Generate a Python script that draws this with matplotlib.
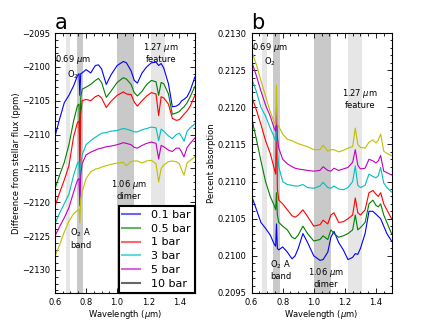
import matplotlib
matplotlib.use("Agg")
import matplotlib.pyplot as plt
from matplotlib.lines import Line2D
from matplotlib.ticker import MultipleLocator, FormatStrFormatter

wavelength = [0.60, 0.63, 0.66, 0.69, 0.72, 0.745, 0.755, 0.76, 0.766, 0.775, 0.80, 0.83,
              0.86, 0.88, 0.90, 0.93, 0.96, 1.00, 1.04, 1.06, 1.09, 1.11, 1.13, 1.16,
              1.19, 1.22, 1.25, 1.267, 1.283, 1.30, 1.33, 1.355, 1.38, 1.40, 1.415, 1.43,
              1.45, 1.47, 1.50]

labels = ["0.1 bar", "0.5 bar", "1 bar", "3 bar", "5 bar", "10 bar"]

# Panel a: difference from stellar flux (ppm)
diff_01 = [-2110.3, -2107.7, -2105.3, -2104.2, -2102.8, -2101.3, -2101.0, -2104.2, -2101.0, -2100.9,
           -2100.4, -2100.9, -2099.8, -2099.7, -2100.3, -2102.6, -2101.2, -2099.8, -2099.2, -2099.4,
           -2100.6, -2102.0, -2102.4, -2100.9, -2100.0, -2099.4, -2099.3, -2099.8, -2099.5, -2100.2,
           -2102.5, -2105.9, -2105.8, -2105.5, -2105.0, -2104.8, -2104.4, -2103.5, -2101.5]
diff_05 = [-2118.0, -2116.0, -2114.1, -2111.5, -2108.0, -2105.7, -2105.5, -2113.0, -2104.5, -2103.3,
           -2103.0, -2102.6, -2102.0, -2101.7, -2102.3, -2104.5, -2103.6, -2102.3, -2101.6, -2101.8,
           -2102.6, -2103.8, -2104.3, -2103.6, -2102.6, -2102.0, -2102.2, -2104.2, -2102.3, -2102.5,
           -2104.0, -2107.0, -2106.8, -2106.6, -2106.2, -2105.9, -2105.3, -2104.4, -2102.9]
diff_1 = [-2120.6, -2118.6, -2116.7, -2114.6, -2110.3, -2108.2, -2108.0, -2116.5, -2107.0, -2105.0,
          -2104.8, -2105.0, -2104.4, -2104.2, -2104.6, -2106.0, -2105.1, -2104.2, -2103.7, -2104.0,
          -2104.1, -2105.2, -2105.8, -2105.0, -2104.3, -2103.8, -2104.0, -2107.2, -2104.4, -2104.6,
          -2105.5, -2107.6, -2107.9, -2107.8, -2107.4, -2107.0, -2106.5, -2105.8, -2104.2]
diff_3 = [-2123.2, -2121.6, -2120.2, -2118.8, -2116.0, -2114.2, -2114.0, -2119.5, -2114.5, -2113.0,
          -2111.5, -2110.9, -2110.4, -2110.1, -2109.8, -2109.7, -2109.5, -2109.4, -2109.1, -2109.2,
          -2109.4, -2109.6, -2109.6, -2109.3, -2109.1, -2108.9, -2109.0, -2110.9, -2109.2, -2109.5,
          -2110.2, -2110.6, -2110.0, -2109.8, -2110.3, -2111.0, -2109.5, -2109.0, -2108.4]
diff_5 = [-2125.0, -2123.6, -2122.3, -2120.8, -2118.5, -2116.7, -2116.5, -2120.5, -2116.0, -2114.3,
          -2113.0, -2112.6, -2112.3, -2112.1, -2112.0, -2111.8, -2111.7, -2111.5, -2111.2, -2111.3,
          -2111.5, -2111.9, -2112.0, -2111.6, -2111.3, -2111.1, -2111.3, -2113.6, -2111.6, -2111.8,
          -2112.3, -2112.5, -2112.0, -2112.0, -2112.6, -2113.3, -2111.9, -2111.3, -2110.5]
diff_10 = [-2128.0, -2126.3, -2124.4, -2122.8, -2121.7, -2121.2, -2121.0, -2123.0, -2119.5, -2118.5,
           -2116.5, -2115.5, -2115.1, -2115.0, -2114.8, -2114.6, -2114.4, -2114.2, -2114.1, -2114.6,
           -2114.0, -2113.9, -2113.9, -2114.2, -2113.9, -2113.8, -2114.3, -2117.0, -2115.0, -2114.5,
           -2114.0, -2113.9, -2114.0, -2114.3, -2115.2, -2116.0, -2114.2, -2113.8, -2113.3]

# Panel b: percent absorption
abs_01 = [0.21081, 0.21063, 0.21045, 0.21037, 0.21028, 0.21016, 0.21013, 0.21043, 0.21010, 0.21008,
          0.21012, 0.21005, 0.20996, 0.21000, 0.21010, 0.21030, 0.21018, 0.21000, 0.20994, 0.20995,
          0.21005, 0.21025, 0.21033, 0.21018, 0.21008, 0.20995, 0.20998, 0.21003, 0.21002, 0.21010,
          0.21030, 0.21060, 0.21060, 0.21056, 0.21053, 0.21050, 0.21040, 0.21030, 0.21020]
abs_05 = [0.21186, 0.21158, 0.21128, 0.21100, 0.21080, 0.21068, 0.21062, 0.21085, 0.21055, 0.21045,
          0.21040, 0.21035, 0.21025, 0.21023, 0.21028, 0.21040, 0.21030, 0.21020, 0.21022, 0.21027,
          0.21022, 0.21035, 0.21030, 0.21025, 0.21027, 0.21030, 0.21035, 0.21055, 0.21035, 0.21038,
          0.21045, 0.21070, 0.21075, 0.21068, 0.21066, 0.21070, 0.21055, 0.21045, 0.21030]
abs_1 = [0.21215, 0.21197, 0.21177, 0.21155, 0.21138, 0.21118, 0.21110, 0.21198, 0.21090, 0.21075,
         0.21070, 0.21062, 0.21054, 0.21052, 0.21055, 0.21062, 0.21053, 0.21040, 0.21042, 0.21048,
         0.21043, 0.21055, 0.21058, 0.21045, 0.21046, 0.21050, 0.21055, 0.21078, 0.21058, 0.21055,
         0.21062, 0.21085, 0.21088, 0.21083, 0.21080, 0.21085, 0.21070, 0.21062, 0.21050]
abs_3 = [0.21239, 0.21222, 0.21200, 0.21188, 0.21172, 0.21160, 0.21155, 0.21185, 0.21140, 0.21120,
         0.21100, 0.21096, 0.21095, 0.21094, 0.21094, 0.21096, 0.21092, 0.21091, 0.21094, 0.21099,
         0.21092, 0.21091, 0.21094, 0.21090, 0.21089, 0.21092, 0.21100, 0.21121, 0.21095, 0.21092,
         0.21095, 0.21110, 0.21107, 0.21105, 0.21108, 0.21119, 0.21098, 0.21092, 0.21086]
abs_5 = [0.21262, 0.21243, 0.21222, 0.21203, 0.21188, 0.21172, 0.21168, 0.21195, 0.21160, 0.21145,
         0.21130, 0.21124, 0.21120, 0.21118, 0.21117, 0.21116, 0.21115, 0.21114, 0.21115, 0.21120,
         0.21115, 0.21114, 0.21118, 0.21115, 0.21117, 0.21119, 0.21126, 0.21143, 0.21122, 0.21117,
         0.21118, 0.21130, 0.21128, 0.21125, 0.21128, 0.21135, 0.21114, 0.21112, 0.21109]
abs_10 = [0.21276, 0.21258, 0.21236, 0.21215, 0.21194, 0.21180, 0.21176, 0.21230, 0.21178, 0.21174,
          0.21164, 0.21157, 0.21155, 0.21153, 0.21151, 0.21149, 0.21147, 0.21143, 0.21143, 0.21149,
          0.21141, 0.21143, 0.21143, 0.21140, 0.21142, 0.21145, 0.21147, 0.21172, 0.21150, 0.21146,
          0.21145, 0.21153, 0.21156, 0.21152, 0.21156, 0.21164, 0.21141, 0.21138, 0.21135]

light_bands = [(0.67, 0.70), (1.22, 1.31)]
dark_bands = [(0.74, 0.78), (1.00, 1.11)]

line_colors = ["b", "g", "r", "c", "m", "y"]
legend_colors = ["b", "g", "r", "c", "m", "k"]

fig = plt.figure(figsize=(4.36, 3.27), dpi=100)
ax_a = fig.add_axes([0.126, 0.104, 0.321, 0.795])
ax_b = fig.add_axes([0.577, 0.104, 0.321, 0.795])

for ax in (ax_a, ax_b):
    for lo, hi in light_bands:
        ax.axvspan(lo, hi, color="0.9", lw=0, zorder=0)
    for lo, hi in dark_bands:
        ax.axvspan(lo, hi, color="0.79", lw=0, zorder=0)

for vals, col in zip([diff_01, diff_05, diff_1, diff_3, diff_5, diff_10], line_colors):
    ax_a.plot(wavelength, vals, color=col, lw=0.8)
for vals, col in zip([abs_01, abs_05, abs_1, abs_3, abs_5, abs_10], line_colors):
    ax_b.plot(wavelength, vals, color=col, lw=0.8)

ax_a.set_xlim(0.6, 1.5)
ax_a.set_ylim(-2133.4, -2095)
ax_b.set_xlim(0.6, 1.5)
ax_b.set_ylim(0.2095, 0.2130)

for ax in (ax_a, ax_b):
    ax.xaxis.set_major_locator(MultipleLocator(0.2))
    ax.xaxis.set_minor_locator(MultipleLocator(0.05))
    ax.tick_params(which="both", direction="in", top=True, right=True, labelsize=6, width=0.6)
    ax.tick_params(which="major", length=3.5)
    ax.tick_params(which="minor", length=1.8)
    ax.set_xlabel(r"Wavelength ($\mu$m)", fontsize=6, labelpad=1)
    for s in ax.spines.values():
        s.set_linewidth(0.8)

ax_a.yaxis.set_major_locator(MultipleLocator(5))
ax_a.yaxis.set_minor_locator(MultipleLocator(1))
ax_b.yaxis.set_major_locator(MultipleLocator(0.0005))
ax_b.yaxis.set_minor_locator(MultipleLocator(0.0001))
ax_b.yaxis.set_major_formatter(FormatStrFormatter("%.4f"))
ax_a.set_ylabel("Difference from stellar flux (ppm)", fontsize=6, labelpad=1)
ax_b.set_ylabel("Percent absorption", fontsize=6, labelpad=1)

ax_a.text(0.0, 1.0, "a", transform=ax_a.transAxes, fontsize=15, ha="left", va="bottom")
ax_b.text(0.0, 1.0, "b", transform=ax_b.transAxes, fontsize=15, ha="left", va="bottom")

tk = dict(fontsize=6, ha="center", va="center", multialignment="center", zorder=5)
ax_a.text(0.716, -2100.0, "0.69 $\\mu$m\nO$_2$", **tk)
ax_a.text(1.283, -2097.9, "1.27 $\\mu$m\nfeature", **tk)
ax_a.text(1.077, -2118.1, "1.06 $\\mu$m\ndimer", **tk)
ax_a.text(0.767, -2125.3, "O$_2$ A\nband", **tk)
ax_b.text(0.72, 0.21271, "0.69 $\\mu$m\nO$_2$", **tk)
ax_b.text(1.296, 0.212115, "1.27 $\\mu$m\nfeature", **tk)
ax_b.text(0.7875, 0.20981, "O$_2$ A\nband", **tk)
ax_b.text(1.08, 0.20971, "1.06 $\\mu$m\ndimer", **tk)

handles = [Line2D([], [], color=c, lw=1.5, alpha=0.6) for c in legend_colors]
leg = ax_a.legend(handles, labels, loc="lower right", fontsize=8, frameon=True, fancybox=False,
                  borderaxespad=0, handlelength=1.6, handletextpad=1.0, labelspacing=0.35,
                  borderpad=0.35)
leg.get_frame().set_edgecolor("black")
leg.get_frame().set_linewidth(1.5)
leg.get_frame().set_alpha(1)

fig.savefig("out.png", dpi=100)
